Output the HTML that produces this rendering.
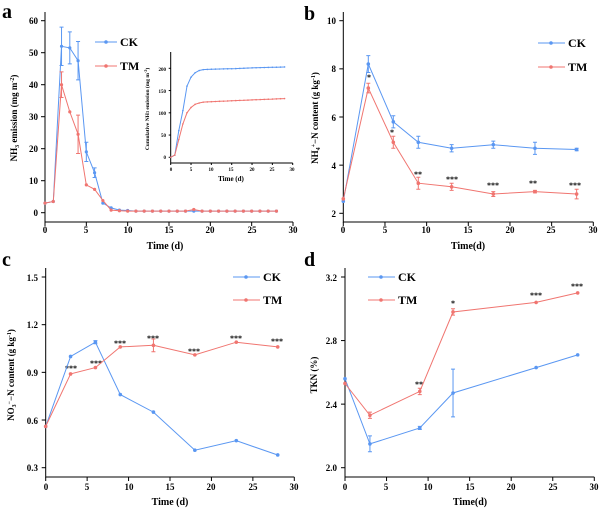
<!DOCTYPE html>
<html><head><meta charset="utf-8"><style>
body{margin:0;background:#fff}
svg text{font-family:"Liberation Serif",serif;font-weight:bold;fill:#000}
</style></head><body>
<svg id="s" width="600" height="510" xmlns="http://www.w3.org/2000/svg">
<g font-size="9" stroke="none">
<!-- panel labels -->
<text x="2" y="18" font-size="20">a</text>
<text x="304" y="20" font-size="20">b</text>
<text x="2" y="266" font-size="20">c</text>
<text x="304" y="266" font-size="20">d</text>
<!-- a axes labels -->
<text x="45" y="233" text-anchor="middle">0</text><text x="86" y="233" text-anchor="middle">5</text><text x="128" y="233" text-anchor="middle">10</text><text x="169" y="233" text-anchor="middle">15</text><text x="210" y="233" text-anchor="middle">20</text><text x="252" y="233" text-anchor="middle">25</text><text x="293" y="233" text-anchor="middle">30</text>
<text x="38" y="216" text-anchor="end">0</text><text x="38" y="184" text-anchor="end">10</text><text x="38" y="152" text-anchor="end">20</text><text x="38" y="120" text-anchor="end">30</text><text x="38" y="88" text-anchor="end">40</text><text x="38" y="56" text-anchor="end">50</text><text x="38" y="24" text-anchor="end">60</text>
<text x="165" y="249" text-anchor="middle" font-size="10">Time (d)</text>
<text transform="translate(17,118) rotate(-90)" text-anchor="middle" font-size="9">NH<tspan font-size="6" dy="2">3</tspan><tspan dy="-2"> emission (mg m</tspan><tspan font-size="6" dy="-3">-2</tspan><tspan dy="3">)</tspan></text>
<text x="120" y="46" font-size="12">CK</text><text x="120" y="70" font-size="12">TM</text>
<!-- inset labels -->
<g font-size="5">
<text x="171" y="171" text-anchor="middle">0</text><text x="191" y="171" text-anchor="middle">5</text><text x="211" y="171" text-anchor="middle">10</text><text x="231" y="171" text-anchor="middle">15</text><text x="252" y="171" text-anchor="middle">20</text><text x="272" y="171" text-anchor="middle">25</text><text x="292" y="171" text-anchor="middle">30</text>
<text x="166" y="159" text-anchor="end">0</text><text x="166" y="137" text-anchor="end">50</text><text x="166" y="115" text-anchor="end">100</text><text x="166" y="93" text-anchor="end">150</text><text x="166" y="71" text-anchor="end">200</text>
<text x="231" y="181" text-anchor="middle" font-size="7">Time (d)</text>
<text transform="translate(149,109) rotate(-90)" text-anchor="middle" font-size="5.5">Cumulative NH<tspan font-size="4">3</tspan> emission (mg m<tspan font-size="4" dy="-2">-2</tspan><tspan dy="2">)</tspan></text>
</g>
<!-- b -->
<text x="343" y="233" text-anchor="middle">0</text><text x="385" y="233" text-anchor="middle">5</text><text x="426" y="233" text-anchor="middle">10</text><text x="468" y="233" text-anchor="middle">15</text><text x="510" y="233" text-anchor="middle">20</text><text x="551" y="233" text-anchor="middle">25</text><text x="593" y="233" text-anchor="middle">30</text>
<text x="336" y="217" text-anchor="end">2</text><text x="336" y="169" text-anchor="end">4</text><text x="336" y="121" text-anchor="end">6</text><text x="336" y="72" text-anchor="end">8</text><text x="336" y="24" text-anchor="end">10</text>
<text x="468" y="249" text-anchor="middle" font-size="10">Time(d)</text>
<text transform="translate(318,118) rotate(-90)" text-anchor="middle">NH<tspan font-size="6" dy="2">4</tspan><tspan font-size="6" dy="-5">+</tspan><tspan dy="3">−N content (g kg</tspan><tspan font-size="6" dy="-3">-1</tspan><tspan dy="3">)</tspan></text>
<text x="568" y="47" font-size="12">CK</text><text x="568" y="71" font-size="12">TM</text>
<!-- c -->
<text x="46" y="490" text-anchor="middle">0</text><text x="87" y="490" text-anchor="middle">5</text><text x="129" y="490" text-anchor="middle">10</text><text x="170" y="490" text-anchor="middle">15</text><text x="211" y="490" text-anchor="middle">20</text><text x="253" y="490" text-anchor="middle">25</text><text x="294" y="490" text-anchor="middle">30</text>
<text x="38" y="471" text-anchor="end">0.3</text><text x="38" y="424" text-anchor="end">0.6</text><text x="38" y="376" text-anchor="end">0.9</text><text x="38" y="328" text-anchor="end">1.2</text><text x="38" y="281" text-anchor="end">1.5</text>
<text x="170" y="505" text-anchor="middle" font-size="10">Time (d)</text>
<text transform="translate(14,375) rotate(-90)" text-anchor="middle">NO<tspan font-size="6" dy="2">3</tspan><tspan font-size="6" dy="-5">−</tspan><tspan dy="3">−N content (g kg</tspan><tspan font-size="6" dy="-3">-1</tspan><tspan dy="3">)</tspan></text>
<text x="263" y="281" font-size="12">CK</text><text x="263" y="304" font-size="12">TM</text>
<!-- d -->
<text x="345" y="490" text-anchor="middle">0</text><text x="386" y="490" text-anchor="middle">5</text><text x="428" y="490" text-anchor="middle">10</text><text x="470" y="490" text-anchor="middle">15</text><text x="511" y="490" text-anchor="middle">20</text><text x="553" y="490" text-anchor="middle">25</text><text x="594" y="490" text-anchor="middle">30</text>
<text x="337" y="471" text-anchor="end">2.0</text><text x="337" y="408" text-anchor="end">2.4</text><text x="337" y="344" text-anchor="end">2.8</text><text x="337" y="281" text-anchor="end">3.2</text>
<text x="470" y="505" text-anchor="middle" font-size="10">Time(d)</text>
<text transform="translate(317,375) rotate(-90)" text-anchor="middle">TKN (%)</text>
<text x="398" y="281" font-size="12">CK</text><text x="398" y="304" font-size="12">TM</text>
<!-- stars -->
<g font-size="8">
<text x="369" y="80" text-anchor="middle">*</text><text x="392" y="135" text-anchor="middle">*</text><text x="418" y="177" text-anchor="middle">**</text><text x="452" y="182" text-anchor="middle">***</text><text x="493" y="188" text-anchor="middle">***</text><text x="533" y="186" text-anchor="middle">**</text><text x="575" y="188" text-anchor="middle">***</text>
<text x="71" y="371" text-anchor="middle">***</text><text x="96" y="366" text-anchor="middle">***</text><text x="120" y="346" text-anchor="middle">***</text><text x="153" y="341" text-anchor="middle">***</text><text x="194" y="354" text-anchor="middle">***</text><text x="236" y="341" text-anchor="middle">***</text><text x="277" y="344" text-anchor="middle">***</text>
<text x="419" y="387" text-anchor="middle">**</text><text x="453" y="306" text-anchor="middle">*</text><text x="536" y="298" text-anchor="middle">***</text><text x="577" y="289" text-anchor="middle">***</text>
</g>
</g>
<g id="g"></g>
</svg>
<script>
const B="#5a97f2",R="#f07570",g=document.getElementById('g');let h='';
function ax(x0,x1,yb,yt,xticks,yticks,tl){h+=`<path d="M${x0} ${yt}V${yb}H${x1}" stroke="#000" stroke-width="1" fill="none"/>`;
xticks.forEach(x=>h+=`<path d="M${x} ${yb}v${tl}" stroke="#000"/>`);yticks.forEach(y=>h+=`<path d="M${x0} ${y}h-${tl}" stroke="#000"/>`);}
function ser(P,c,fx,fy,ms){let d=P.map((p,i)=>(i?'L':'M')+fx(p[0]).toFixed(1)+' '+fy(p[1]).toFixed(1)).join('');
h+=`<path d="${d}" stroke="${c}" stroke-width="1" fill="none"/>`;
P.forEach(p=>{let x=fx(p[0]),y=fy(p[1]);h+=`<circle cx="${x}" cy="${y}" r="${ms}" fill="${c}"/>`;
if(p[2]){let a=fy(p[1]+p[2]),b=fy(p[1]-p[2]);h+=`<path d="M${x} ${a}V${b}M${x-2} ${a}h4M${x-2} ${b}h4" stroke="${c}" stroke-width="1"/>`;}});}
function lin(a0,a1,p0,p1){return v=>p0+(v-a0)*(p1-p0)/(a1-a0);}
// a
let ax_=lin(0,30,45,293),ay=lin(0,60,212.7,20.7);
ax(45,293,222,12,[0,5,10,15,20,25,30].map(ax_),[0,10,20,30,40,50,60].map(ay),4);
let ck=[[0,3],[1,3.5],[2,52,6],[3,51.5,5],[4,47.5,6],[5,19,3],[6,12.5,1.5],[7,3],[8,1.5],[9,0.8],[10,0.7]],tm=[[0,3],[1,3.5],[2,40,4],[3,31.5],[4,24.5,6],[5,8.7],[6,7.3],[7,3.8],[8,0.8],[9,0.6],[10,0.5]];
for(let d=11;d<=28;d++){ck.push([d,0.5]);tm.push([d,d==18?1:0.5]);}
ser(ck,B,ax_,ay,1.6);ser(tm,R,ax_,ay,1.6);
h+=`<path d="M95 42h22" stroke="${B}"/><circle cx="106" cy="42" r="1.8" fill="${B}"/><path d="M95 66h22" stroke="${R}"/><circle cx="106" cy="66" r="1.8" fill="${R}"/>`;
// inset
let ix=lin(0,30,170.7,292.7),iy=lin(0,200,157.3,68.3);
ax(170.7,292.7,163,52,[0,5,10,15,20,25,30].map(ix),[0,50,100,150,200].map(iy),2);
let ic=[[0,0],[1,5],[2,60],[3,105],[4,160],[5,180],[6,190],[7,195],[8,197],[10,198],[15,199],[20,201],[28,203]],it=[[0,0],[1,5],[2,40],[3,75],[4,100],[5,112],[6,119],[7,122],[8,124],[10,125],[15,127],[20,129],[28,132]];
let fill=a=>{let o=[];for(let i=0;i<a.length-1;i++){for(let d=a[i][0];d<a[i+1][0];d++)o.push([d,a[i][1]+(a[i+1][1]-a[i][1])*(d-a[i][0])/(a[i+1][0]-a[i][0])]);}o.push(a[a.length-1]);return o;};
ser(fill(ic),B,ix,iy,0.8);ser(fill(it),R,ix,iy,0.8);
// b
let bx=lin(0,30,343.3,593.3),by=lin(2,10,213.3,20.7);
ax(343.3,593.3,222,12,[0,5,10,15,20,25,30].map(bx),[2,4,6,8,10].map(by),4);
ser([[0,2.5],[3,8.2,0.35],[6,5.8,0.25],[9,4.95,0.25],[13,4.7,0.15],[18,4.85,0.15],[23,4.7,0.25],[28,4.65,0.05]],B,bx,by,1.8);
ser([[0,2.6],[3,7.2,0.2],[6,4.95,0.25],[9,3.25,0.25],[13,3.1,0.15],[18,2.8,0.1],[23,2.9,0.05],[28,2.8,0.2]],R,bx,by,1.8);
h+=`<path d="M538 43h27" stroke="${B}"/><circle cx="551" cy="43" r="1.8" fill="${B}"/><path d="M538 67h27" stroke="${R}"/><circle cx="551" cy="67" r="1.8" fill="${R}"/>`;
// c
let cx=lin(0,30,45.7,294.3),cy=lin(0.3,1.5,467.7,277);
ax(45.7,294.3,477,268,[0,5,10,15,20,25,30].map(cx),[0.3,0.6,0.9,1.2,1.5].map(cy),4);
ser([[0,0.56],[3,1.0],[6,1.09,0.01],[9,0.76],[13,0.65],[18,0.41],[23,0.47],[28,0.38]],B,cx,cy,1.8);
ser([[0,0.56],[3,0.89],[6,0.93],[9,1.06],[13,1.07,0.04],[18,1.01],[23,1.09],[28,1.06]],R,cx,cy,1.8);
h+=`<path d="M233 277h27" stroke="${B}"/><circle cx="246" cy="277" r="1.8" fill="${B}"/><path d="M233 300h27" stroke="${R}"/><circle cx="246" cy="300" r="1.8" fill="${R}"/>`;
// d
let dx=lin(0,30,345,594.3),dy=lin(2,3.2,467.7,277);
ax(345,594.3,477,268,[0,5,10,15,20,25,30].map(dx),[2,2.4,2.8,3.2].map(dy),4);
ser([[0,2.56],[3,2.15,0.05],[9,2.25,0.01],[13,2.47,0.15],[23,2.63],[28,2.71]],B,dx,dy,1.8);
ser([[0,2.53],[3,2.33,0.02],[9,2.48,0.02],[13,2.98,0.02],[23,3.04],[28,3.1]],R,dx,dy,1.8);
h+=`<path d="M368 277h27" stroke="${B}"/><circle cx="381" cy="277" r="1.8" fill="${B}"/><path d="M368 300h27" stroke="${R}"/><circle cx="381" cy="300" r="1.8" fill="${R}"/>`;
g.innerHTML=h;
</script>
</body></html>
